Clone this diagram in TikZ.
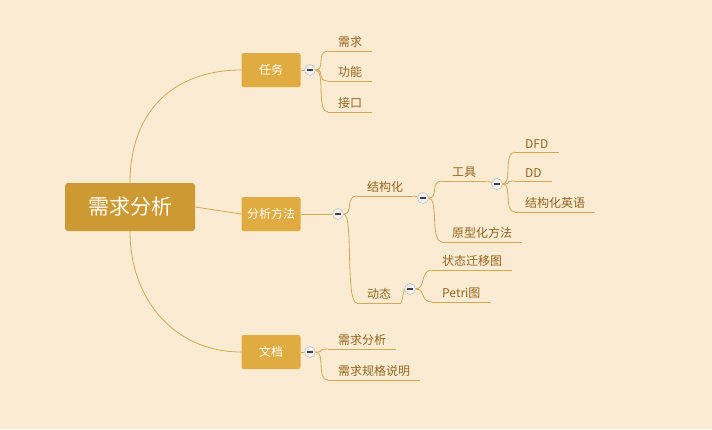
\documentclass[tikz,border=0pt]{standalone}
\usepackage{fontspec}
\setmainfont{Noto Sans CJK SC}
\usepackage{tikz}

\definecolor{bgcol}{RGB}{250,235,210}
\definecolor{rootcol}{RGB}{204,153,51}
\definecolor{topcol}{RGB}{224,172,66}
\definecolor{linecol}{RGB}{214,166,80}
\definecolor{txtcol}{RGB}{150,100,30}

\tikzset{
  rootbox/.style={rounded corners=3pt,fill=rootcol,text=white,minimum width=130pt,minimum height=48pt,font=\fontsize{21}{24}\selectfont},
  topbox/.style={rounded corners=2pt,fill=topcol,text=white,minimum width=59pt,minimum height=34pt,font=\fontsize{12}{14}\selectfont},
  leaf/.style={anchor=south west,inner xsep=10pt,inner ysep=3pt,text=txtcol,font=\fontsize{12}{14}\selectfont,
    append after command={(\tikzlastnode.south west) edge[conn] (\tikzlastnode.south east)}},
  conn/.style={draw=linecol,line width=0.8pt},
  icon/.style={circle,minimum size=11pt,inner sep=0pt,draw=gray!60,fill=gray!12,
    path picture={\draw[line width=1.3pt,black!75] ([xshift=-2.8pt]path picture bounding box.center) -- ([xshift=2.8pt]path picture bounding box.center);}}
}

\begin{document}
\begin{tikzpicture}[x=1pt,y=-1pt]
\fill[bgcol] (0,0) rectangle (712,429);
\useasboundingbox (0,0) rectangle (712,429);

% main nodes
\node[rootbox] (root) at (130,207) {需求分析};
\node[topbox] (task) at (271,70) {任务};
\node[topbox] (ana) at (271,214) {分析方法};
\node[topbox] (doc) at (271,352) {文档};

\draw[conn] (root.north) .. controls (130,110) and (175,70) .. (task.west);
\draw[conn] (root.east) -- (ana.west);
\draw[conn] (root.south) .. controls (130,300) and (175,352) .. (doc.west);

% icons
\node[icon] (ic1) at (310,70) {};
\node[icon] (ic2) at (338,214) {};
\node[icon] (ic3) at (310,352) {};
\node[icon] (ic4) at (423,198) {};
\node[icon] (ic5) at (497,184) {};
\node[icon] (ic6) at (410,289) {};

\draw[conn] (task) -- (ic1);
\draw[conn] (ana) -- (ic2);
\draw[conn] (doc) -- (ic3);

% leaves
\node[leaf] (need) at (328,51) {需求};
\node[leaf] (func) at (328,81) {功能};
\node[leaf] (intf) at (328,112) {接口};
\node[leaf] (struct) at (357,196) {结构化};
\node[leaf] (dyn) at (357,303) {动态};
\node[leaf] (tool) at (442,181) {工具};
\node[leaf] (proto) at (442,242) {原型化方法};
\node[leaf] (dfd) at (515,152) {DFD};
\node[leaf] (dd) at (515,181) {DD};
\node[leaf] (eng) at (515,212) {结构化英语};
\node[leaf] (state) at (432,270) {状态迁移图};
\node[leaf] (petri) at (432,302) {Petri图};
\node[leaf] (reqa) at (328,349) {需求分析};
\node[leaf] (spec) at (328,380) {需求规格说明};

% connectors
\foreach \a/\b in {ic1/need,ic1/func,ic1/intf,ic2/struct,ic2/dyn,ic4/tool,ic4/proto,
  ic5/dfd,ic5/dd,ic5/eng,ic6/state,ic6/petri,ic3/reqa,ic3/spec}
  \draw[conn] (\a.east) .. controls +(10,0) and +(-12,0) .. (\b.south west);
\draw[conn] (struct.south east) -- (ic4);
\draw[conn] (dyn.south east) -- (ic6.west);
\draw[conn] (tool.south east) -- (ic5);
\end{tikzpicture}
\end{document}
